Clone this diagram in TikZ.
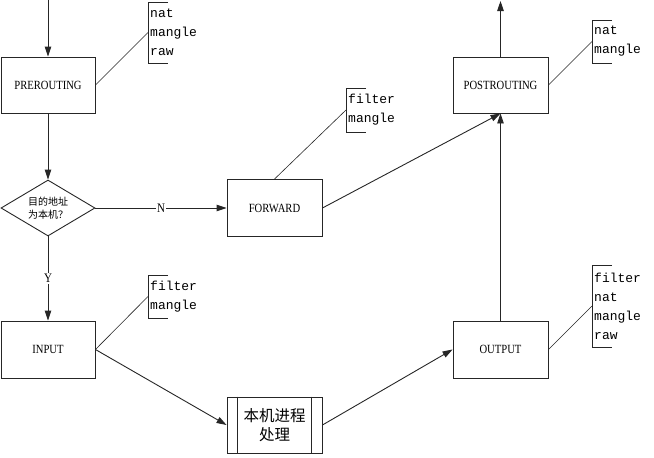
\documentclass[tikz,border=0pt]{standalone}
\usepackage{fontspec}
\setmainfont{Liberation Serif}
\newfontfamily\annfont{Liberation Mono}
\newfontfamily\boxfont[FakeStretch=0.85]{Liberation Serif}
\newfontfamily\cjk{Noto Sans CJK SC}
\usetikzlibrary{shapes.geometric,arrows.meta}
\begin{document}
\begin{tikzpicture}[x=1pt,y=-1pt,
  line/.style={draw=black!85,line width=0.9pt},
  arr/.style={line,-{Triangle[length=10pt,width=6.5pt]}},
  boxnode/.style={line,rectangle,minimum width=94pt,minimum height=56pt,inner sep=0pt,font=\boxfont\fontsize{12.5}{14}\selectfont},
  dianode/.style={line,diamond,minimum width=94pt,minimum height=56pt,aspect=1.68,inner sep=0pt,align=center,font=\cjk\fontsize{10}{13}\selectfont},
  ann/.style={rectangle,inner xsep=2pt,inner ysep=0pt,anchor=west,align=left,font=\annfont\fontsize{13}{19}\selectfont},
  annline/.style={draw=black!85,line width=0.6pt},
  lbl/.style={fill=white,inner sep=1pt,font=\boxfont\fontsize{13}{14}\selectfont}
]
\useasboundingbox (0,0) rectangle (654,458);

% main nodes
\node[boxnode] (pre)  at (48,85) {PREROUTING};
\node[dianode] (dia)  at (48,208) {目的地址\\为本机？};
\node[boxnode,minimum width=95pt,minimum height=57pt] (fwd) at (274.5,208) {FORWARD};
\node[boxnode,minimum height=57pt] (in) at (48,349.5) {INPUT};
\node[boxnode,minimum width=95pt,align=center,font=\cjk\fontsize{15.5}{19}\selectfont] (proc) at (274.5,425) {本机进程\\处理};
\node[boxnode,minimum width=95pt,minimum height=57pt] (out) at (500.5,349.5) {OUTPUT};
\node[boxnode,minimum width=95pt] (post) at (500.5,85) {POSTROUTING};

% inner lines of process box
\draw[line] ([xshift=11pt]proc.north west) -- ([xshift=11pt]proc.south west);
\draw[line] ([xshift=-11pt]proc.north east) -- ([xshift=-11pt]proc.south east);

% free ends
\coordinate (inTop) at (48,0);
\coordinate (outTop) at (500.5,1);

% connectors
\draw[arr] (inTop) -- (pre.north);
\draw[arr] (pre.south) -- (dia.north);
\draw[arr] (dia.east) -- node[lbl] {N} (fwd.west);
\draw[arr] (dia.south) -- node[lbl] {Y} (in.north);
\draw[arr] (fwd.east) -- (post.south);
\draw[arr] (in.east) -- (proc.west);
\draw[arr] (proc.east) -- (out.west);
\draw[arr] (out.north) -- (post.south);
\draw[arr] (post.north) -- (outTop);

% annotations
\node[ann,minimum height=61pt] (apre) at (148,32.5) {nat\\mangle\\raw};
\node[ann,minimum height=44pt] (afwd) at (346,110) {filter\\mangle};
\node[ann,minimum height=43pt] (ain) at (148,296.5) {filter\\mangle};
\node[ann,minimum height=82pt] (aout) at (592,306) {filter\\nat\\mangle\\raw};
\node[ann,minimum height=43pt] (apost) at (592,41.5) {nat\\mangle};

\foreach \a in {apre,afwd,ain,aout,apost}{
  \draw[annline] ([xshift=20pt]\a.north west) -- (\a.north west) -- (\a.south west) -- ([xshift=20pt]\a.south west);
}

\draw[annline] (pre.east) -- (apre.west);
\draw[annline] (fwd.north) -- (afwd.west);
\draw[annline] (in.east) -- (ain.west);
\draw[annline] (out.east) -- (aout.west);
\draw[annline] (post.east) -- (apost.west);
\end{tikzpicture}
\end{document}
